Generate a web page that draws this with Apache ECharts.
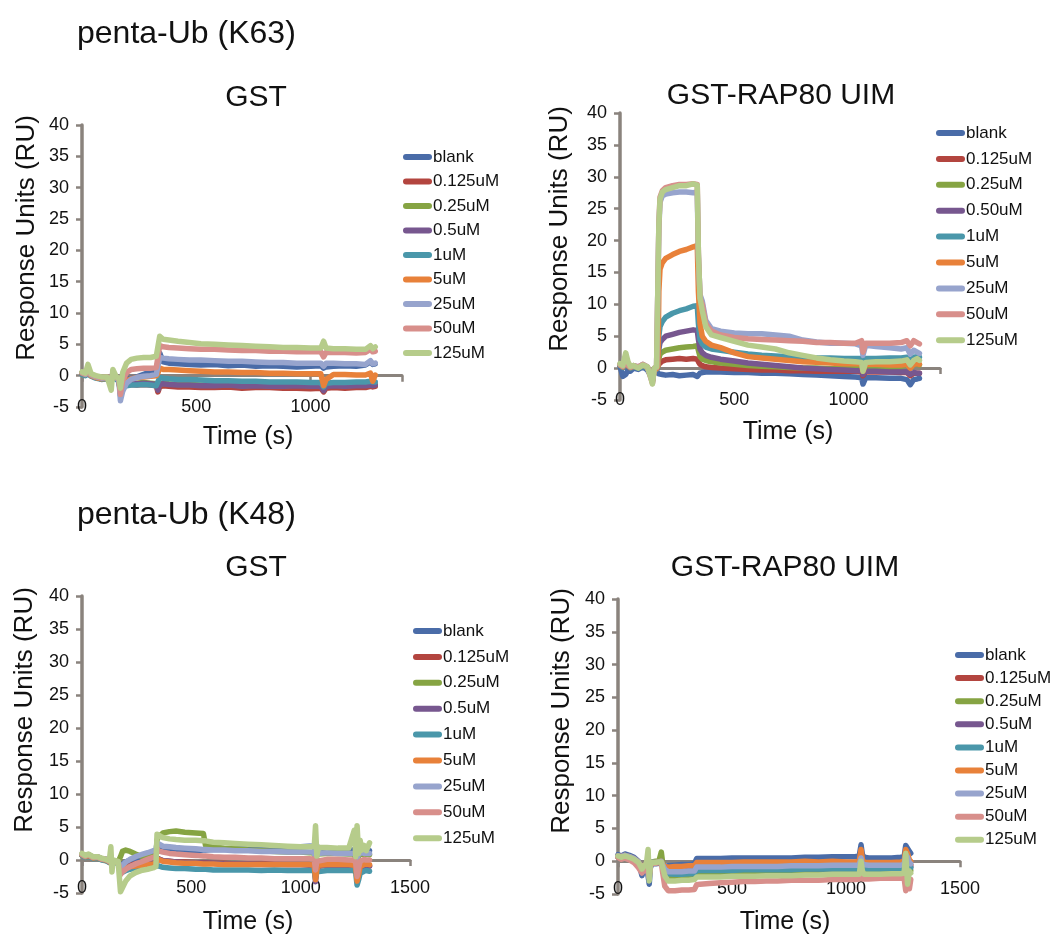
<!DOCTYPE html>
<html>
<head>
<meta charset="utf-8">
<script src="https://cdn.jsdelivr.net/npm/echarts@6/dist/echarts.min.js"></script>
<style>
  html, body { margin: 0; padding: 0; background: #ffffff; }
  #chart { width: 1058px; height: 941px; }
</style>
</head>
<body>
<div id="chart"></div>
<script>
// Analyte concentrations (legend labels)
const concentrations = ['blank', '0.125uM', '0.25uM', '0.5uM', '1uM', '5uM', '25uM', '50uM', '125uM'];
const concentrationsK63Uim = ['blank', '0.125uM', '0.25uM', '0.50uM', '1uM', '5uM', '25uM', '50uM', '125uM'];

// Y axis ticks (RU) and X axis tick step (s)
const yTicks = { min: -5, max: 40, step: 5 };
const xStep = 500;

// ---- penta-Ub (K63) on GST ----
const timeK63Gst = [
  0, 15, 26, 40, 60, 85, 110, 128, 135, 150,
  162, 168, 178, 195, 215, 240, 270, 300, 325, 332,
  340, 355, 380, 420, 470, 520, 580, 640, 700, 760,
  820, 880, 940, 1000, 1045, 1057, 1068, 1100, 1150, 1200,
  1240, 1262, 1272, 1283
];
const respK63Gst = [
  // blank
  [0.5, 0.2, 0.6, 0.1, -0.2, -0.5, -0.3, -0.8, 0.3, -0.3,
   -0.6, -2.5, -1.2, -0.6, -0.4, -0.2, 0.2, 0.6, 0.9, 1.0,
   3.6, 2.2, 2.0, 1.9, 1.8, 1.7, 1.8, 1.6, 1.7, 1.5,
   1.6, 1.5, 1.4, 1.5, 1.6, 1.2, 1.4, 1.5, 1.6, 1.5,
   1.7, 2.2, 1.8, 1.9],
  // 0.125uM
  [0.3, 0.1, 0.4, 0.0, -0.3, -0.5, -0.4, -0.9, 0.2, -0.5,
   -0.8, -2.8, -1.8, -1.5, -1.4, -1.5, -1.4, -1.5, -1.6, -2.6,
   -1.8, -1.6, -1.7, -1.8, -1.8, -1.9, -1.9, -1.8, -2.0, -1.9,
   -1.9, -2.0, -2.0, -2.1, -2.0, -2.6, -2.0, -1.9, -2.0, -1.9,
   -1.9, -1.7, -1.8, -1.7],
  // 0.25uM
  [0.4, 0.2, 0.5, 0.1, -0.2, -0.4, -0.3, -0.8, 0.3, -0.4,
   -0.7, -2.6, -1.6, -1.3, -1.2, -1.2, -1.1, -1.2, -1.3, -2.2,
   -1.3, -1.2, -1.3, -1.4, -1.4, -1.5, -1.5, -1.4, -1.6, -1.5,
   -1.6, -1.6, -1.5, -1.6, -1.6, -2.2, -1.6, -1.5, -1.6, -1.5,
   -1.5, -1.4, -1.5, -1.4],
  // 0.5uM
  [0.3, 0.1, 0.4, 0.0, -0.3, -0.5, -0.4, -0.8, 0.2, -0.4,
   -0.7, -2.7, -1.7, -1.4, -1.3, -1.3, -1.2, -1.3, -1.4, -2.3,
   -1.4, -1.3, -1.4, -1.5, -1.5, -1.6, -1.6, -1.5, -1.7, -1.6,
   -1.7, -1.7, -1.6, -1.7, -1.7, -2.4, -1.7, -1.6, -1.7, -1.6,
   -1.6, -1.5, -1.6, -1.5],
  // 1uM
  [0.2, 0.0, 0.3, -0.1, -0.4, -0.6, -0.5, -1.0, 0.1, -0.6,
   -0.9, -3.2, -2.0, -1.6, -1.5, -1.5, -1.4, -1.5, -1.6, -1.4,
   -0.3, -0.4, -0.5, -0.6, -0.6, -0.7, -0.8, -0.8, -0.9, -0.9,
   -1.0, -1.0, -1.0, -1.1, -1.1, -1.8, -1.2, -1.1, -1.1, -1.0,
   -1.0, -0.9, -1.0, -1.0],
  // 5uM
  [0.4, 0.2, 0.5, 0.0, -0.3, -0.5, -0.4, -0.8, 0.3, -0.4,
   -0.6, -2.8, -1.4, -0.8, -0.5, -0.3, -0.2, -0.1, 0.0, 0.4,
   1.2, 1.0, 1.0, 0.9, 0.8, 0.7, 0.6, 0.6, 0.5, 0.5,
   0.4, 0.4, 0.3, 0.3, 0.3, -1.6, -0.6, 0.2, 0.2, 0.1,
   0.1, 0.4, -0.9, 0.1],
  // 25uM
  [0.5, 0.2, 0.6, 0.1, -0.2, -0.4, -0.3, -0.6, 0.4, -0.3,
   -0.8, -4.0, -2.5, -1.2, -0.6, -0.3, -0.1, 0.0, 0.2, 0.3,
   2.9, 2.8, 2.7, 2.6, 2.5, 2.5, 2.4, 2.3, 2.3, 2.2,
   2.1, 2.1, 2.0, 2.0, 2.0, 1.5, 2.0, 2.0, 1.9, 1.9,
   1.8, 2.4, 1.9, 2.0],
  // 50uM
  [0.5, 0.3, 0.7, 0.2, -0.1, -0.3, -0.2, -0.6, 0.4, -0.2,
   -0.5, -3.0, -0.8, 0.5, 1.0, 1.1, 1.2, 1.2, 1.3, 1.4,
   4.8, 4.6, 4.5, 4.4, 4.3, 4.2, 4.2, 4.1, 4.0, 4.0,
   3.9, 3.9, 3.8, 3.8, 3.8, 3.0, 3.7, 3.7, 3.7, 3.6,
   3.7, 4.2, 3.8, 3.9],
  // 125uM
  [0.6, 0.4, 1.8, 0.3, 0.0, -0.2, -0.2, -2.3, 1.0, -0.2,
   -0.4, -2.0, 0.5, 2.0, 2.6, 2.8, 2.9, 2.9, 3.1, 3.2,
   6.3, 5.8, 5.7, 5.5, 5.3, 5.1, 5.0, 4.9, 4.8, 4.7,
   4.6, 4.5, 4.5, 4.4, 4.4, 5.5, 4.4, 4.3, 4.3, 4.2,
   4.2, 4.8, 4.3, 4.6]
];

// ---- penta-Ub (K63) on GST-RAP80 UIM ----
const timeK63Uim = [
  0, 12, 25, 35, 45, 60, 80, 100, 120, 135,
  142, 150, 160, 166, 170, 175, 185, 200, 230, 260,
  290, 320, 338, 343, 350, 360, 375, 400, 440, 500,
  560, 620, 680, 740, 800, 860, 920, 980, 1030, 1057,
  1063, 1075, 1120, 1180, 1230, 1255, 1270, 1285, 1300, 1310
];
const respK63Uim = [
  // blank
  [0.3, -1.3, -1.0, -0.3, -0.5, 0.0, -0.2, 0.2, -0.3, -1.2,
   -1.5, -0.5, -0.5, -0.8, -0.9, -1.0, -1.0, -1.1, -1.0, -1.2,
   -1.1, -1.0, -1.3, -1.0, -0.8, -0.7, -0.6, -0.6, -0.6, -0.7,
   -0.7, -0.8, -0.8, -0.9, -1.0, -1.1, -1.2, -1.3, -1.4, -1.5,
   -2.5, -1.5, -1.5, -1.6, -1.6, -1.8, -2.6, -1.8, -1.7, -1.6],
  // 0.125uM
  [0.5, 0.2, 0.8, 0.3, 0.0, 0.3, 0.1, 0.4, 0.0, -1.0,
   -1.8, -0.3, -0.2, 0.0, 0.6, 0.9, 1.1, 1.3, 1.4, 1.5,
   1.4, 1.5, 1.4, 1.0, 0.6, 0.4, 0.2, 0.1, 0.0, -0.1,
   -0.2, -0.3, -0.3, -0.4, -0.4, -0.5, -0.5, -0.5, -0.5, -0.6,
   -1.2, -0.6, -0.6, -0.6, -0.7, -0.7, -1.2, -0.8, -0.8, -0.8],
  // 0.25uM
  [0.5, 0.3, 0.9, 0.4, 0.1, 0.3, 0.1, 0.4, 0.1, -1.0,
   -1.9, -0.2, -0.1, 0.1, 1.5, 2.2, 2.5, 2.8, 3.0, 3.2,
   3.3, 3.4, 3.5, 2.8, 1.8, 1.4, 1.2, 1.0, 0.8, 0.6,
   0.4, 0.3, 0.2, 0.1, 0.0, 0.0, -0.1, -0.1, 0.0, 0.0,
   -0.8, 0.0, 0.1, 0.2, 0.3, 0.5, 0.0, 0.6, 0.6, 0.5],
  // 0.50uM
  [0.5, 0.2, 0.8, 0.3, 0.1, 0.3, 0.1, 0.4, 0.0, -1.1,
   -1.9, -0.2, -0.1, 0.2, 3.0, 4.0, 4.5, 5.0, 5.3, 5.6,
   5.8, 6.0, 5.9, 4.5, 3.0, 2.4, 2.0, 1.7, 1.4, 1.1,
   0.8, 0.6, 0.4, 0.2, 0.0, -0.1, -0.2, -0.3, -0.4, -0.4,
   -1.0, -0.5, -0.5, -0.6, -0.6, -0.6, -1.0, -0.7, -0.8, -0.8],
  // 1uM
  [0.4, 0.1, 0.7, 0.3, 0.0, 0.2, 0.0, 0.3, 0.0, -1.2,
   -2.0, -0.3, -0.2, 0.2, 5.0, 6.5, 7.3, 8.0, 8.6, 9.0,
   9.3, 9.7, 9.8, 7.0, 4.5, 3.8, 3.3, 3.0, 2.8, 2.5,
   2.2, 2.0, 1.9, 1.8, 1.7, 1.6, 1.6, 1.5, 1.5, 1.5,
   0.5, 1.5, 1.5, 1.6, 1.6, 1.7, 1.0, 1.7, 1.8, 1.7],
  // 5uM
  [0.5, 0.2, 0.9, 0.4, 0.1, 0.3, 0.1, 0.5, 0.1, -1.2,
   -2.0, -0.2, -0.1, 0.3, 12.0, 15.5, 16.5, 17.2, 17.8, 18.3,
   18.6, 19.0, 19.2, 12.0, 7.0, 5.0, 4.2, 3.6, 3.2, 2.4,
   1.8, 1.6, 1.4, 1.2, 1.0, 0.9, 0.8, 0.7, 0.7, 0.7,
   -0.5, 0.6, 0.6, 0.5, 0.5, 0.6, 0.0, 0.6, 0.7, 0.6],
  // 25uM
  [0.6, 0.3, 1.0, 0.5, 0.2, 0.4, 0.2, 0.6, 0.2, -1.4,
   -2.2, 0.0, 0.1, 0.3, 22.0, 26.0, 27.0, 27.3, 27.5, 27.6,
   27.6, 27.5, 27.6, 17.5, 11.5, 10.5, 7.5, 6.2, 5.8, 5.5,
   5.4, 5.4, 5.2, 5.0, 4.4, 4.1, 3.9, 3.9, 3.8, 3.5,
   2.0, 3.6, 3.4, 3.2, 3.0, 3.2, 2.2, 2.8, 2.5, 2.3],
  // 50uM
  [0.6, 0.3, 1.1, 0.5, 0.2, 0.4, 0.2, 0.6, 0.2, -1.6,
   -2.4, 0.0, 0.1, 0.4, 22.5, 26.8, 27.8, 28.3, 28.6, 28.8,
   28.8, 28.9, 28.8, 18.0, 11.0, 10.0, 7.0, 5.8, 5.2, 4.8,
   4.6, 4.5, 4.4, 4.3, 4.2, 4.0, 4.0, 3.9, 3.9, 4.3,
   2.5, 3.9, 3.9, 3.9, 4.0, 4.3, 3.5, 4.3, 4.0, 3.8],
  // 125uM
  [0.7, 0.4, 2.4, 1.0, 0.3, 0.4, 0.0, 0.5, 0.2, -1.5,
   -2.5, 0.0, 0.2, 0.4, 22.5, 26.5, 27.6, 28.0, 28.3, 28.6,
   28.6, 28.9, 28.7, 18.0, 11.0, 9.0, 6.5, 5.2, 4.8, 4.2,
   3.6, 3.3, 3.0, 2.4, 2.0, 1.6, 1.3, 1.1, 1.0, 0.9,
   -0.5, 0.9, 1.0, 1.0, 1.1, 1.3, 0.5, 1.2, 1.5, 1.2]
];

// ---- penta-Ub (K48) on GST ----
const timeK48Gst = [
  0, 15, 30, 50, 70, 90, 110, 125, 132, 137,
  142, 150, 165, 172, 176, 185, 200, 220, 245, 270,
  300, 325, 338, 343, 350, 370, 400, 430, 470, 520,
  555, 565, 600, 650, 700, 760, 820, 880, 940, 1000,
  1040, 1062, 1068, 1074, 1080, 1120, 1170, 1220, 1245, 1252,
  1258, 1265, 1272, 1280, 1290, 1300, 1315
];
const respK48Gst = [
  // blank
  [0.9, 0.6, 0.8, 0.4, 0.5, 0.2, 0.1, -0.2, -0.3, -0.4,
   -0.3, -0.2, -0.3, -0.4, -0.8, -0.6, -0.3, 0.0, 0.3, 0.5,
   0.7, 0.9, 1.0, 2.0, 1.6, 1.4, 1.3, 1.3, 1.4, 1.4,
   1.5, 1.5, 1.6, 1.6, 1.7, 1.8, 1.8, 1.9, 2.0, 2.0,
   2.1, 2.1, 1.2, 2.0, 1.8, 1.6, 1.6, 1.5, 1.5, 1.4,
   1.0, 1.5, 1.4, 1.5, 1.6, 1.5, 1.4],
  // 0.125uM
  [0.8, 0.5, 0.7, 0.3, 0.4, 0.1, 0.0, -0.3, -0.4, -0.5,
   -0.4, -0.3, -0.4, -0.5, -1.5, -1.2, -1.0, -0.8, -0.6, -0.5,
   -0.4, -0.3, -0.3, 0.2, 0.0, -0.1, -0.2, -0.3, -0.3, -0.4,
   -0.4, -0.4, -0.5, -0.5, -0.6, -0.6, -0.6, -0.6, -0.7, -0.7,
   -0.7, -0.8, -2.5, -1.0, -0.8, -0.8, -0.8, -0.8, -0.9, -1.2,
   -2.0, -1.5, -1.0, -0.9, -0.9, -0.8, -0.9],
  // 0.25uM
  [0.7, 0.5, 0.6, 0.3, 0.3, 0.1, -0.1, -0.3, -0.3, -0.4,
   -0.3, -0.2, -0.3, -0.2, 0.5, 1.3, 1.5, 1.3, 0.9, 0.6,
   0.5, 0.5, 0.6, 3.0, 3.5, 4.1, 4.3, 4.4, 4.2, 4.1,
   4.0, 2.2, 2.0, 1.8, 1.7, 1.5, 1.4, 1.3, 1.2, 1.2,
   1.1, 1.1, -1.0, 0.9, 1.0, 1.0, 1.0, 0.9, 0.9, 0.8,
   -0.5, 0.7, 0.9, 0.9, 0.8, 0.9, 0.8],
  // 0.5uM
  [0.8, 0.5, 0.7, 0.3, 0.4, 0.1, 0.0, -0.3, -0.4, -0.5,
   -0.4, -0.3, -0.4, -0.5, -1.6, -1.3, -1.1, -0.9, -0.7, -0.6,
   -0.5, -0.4, -0.4, 0.3, 0.0, -0.1, -0.2, -0.3, -0.4, -0.4,
   -0.5, -0.5, -0.5, -0.6, -0.6, -0.6, -0.7, -0.7, -0.7, -0.7,
   -0.8, -0.8, -3.3, -1.2, -0.8, -0.8, -0.8, -0.9, -0.9, -1.3,
   -2.2, -1.6, -1.0, -0.9, -0.9, -0.9, -0.9],
  // 1uM
  [0.7, 0.4, 0.6, 0.2, 0.3, 0.0, -0.1, -0.4, -0.5, -0.6,
   -0.5, -0.4, -0.5, -0.6, -2.0, -1.8, -1.6, -1.4, -1.2, -1.1,
   -1.0, -0.9, -0.9, -0.6, -0.9, -1.1, -1.2, -1.3, -1.3, -1.4,
   -1.4, -1.4, -1.5, -1.5, -1.5, -1.5, -1.6, -1.5, -1.6, -1.6,
   -1.6, -1.6, -2.8, -1.8, -1.6, -1.6, -1.6, -1.6, -1.6, -2.0,
   -3.8, -3.0, -2.0, -1.8, -1.7, -1.6, -1.7],
  // 5uM
  [0.8, 0.5, 0.7, 0.3, 0.4, 0.1, 0.0, -0.3, -0.4, -0.5,
   -0.4, -0.3, -0.4, -0.5, -1.6, -1.4, -1.2, -1.0, -0.9, -0.8,
   -0.7, -0.6, -0.5, 0.2, -0.1, -0.2, -0.3, -0.4, -0.5, -0.5,
   -0.6, -0.6, -0.6, -0.7, -0.7, -0.7, -0.7, -0.7, -0.7, -0.7,
   -0.7, -0.8, -3.0, -1.5, -0.8, -0.7, -0.7, -0.7, -0.8, -1.2,
   -3.2, -2.2, -1.0, -0.8, -0.7, -0.6, -0.7],
  // 25uM
  [0.9, 0.6, 0.8, 0.4, 0.5, 0.2, 0.1, -0.2, -0.3, -0.4,
   -0.3, -0.2, -0.3, -0.4, -1.3, -0.8, -0.3, 0.1, 0.5, 0.8,
   1.1, 1.4, 1.5, 2.6, 2.3, 2.1, 2.0, 1.9, 1.8, 1.7,
   1.6, 1.6, 1.5, 1.5, 1.4, 1.4, 1.3, 1.3, 1.2, 1.2,
   1.2, 1.2, 0.0, 1.0, 1.1, 1.1, 1.0, 1.0, 1.0, 0.8,
   0.2, 0.9, 1.0, 1.1, 1.0, 1.0, 1.0],
  // 50uM
  [0.9, 0.6, 0.8, 0.4, 0.5, 0.2, 0.1, -0.2, -0.3, -0.4,
   -0.3, -0.2, -0.3, -0.4, -2.2, -1.8, -1.4, -1.0, -0.6, -0.3,
   0.1, 0.4, 0.5, 1.8, 1.4, 1.2, 1.0, 0.9, 0.8, 0.7,
   0.6, 0.6, 0.5, 0.4, 0.4, 0.3, 0.3, 0.2, 0.2, 0.2,
   0.2, 0.1, -1.5, -0.2, 0.1, 0.1, 0.1, 0.0, 0.0, -0.5,
   -2.5, -1.2, -0.2, 0.0, 0.1, 0.0, 0.0],
  // 125uM
  [1.0, 0.7, 0.9, 0.5, 0.5, 0.3, 0.1, -0.1, 2.0, -1.8,
   0.0, -0.1, -0.2, -0.3, -4.8, -4.2, -3.2, -2.4, -1.9, -1.6,
   -1.4, -1.2, -1.0, 3.9, 3.6, 3.4, 3.2, 3.1, 3.0, 3.0,
   2.9, 2.9, 2.7, 2.6, 2.5, 2.4, 2.3, 2.2, 2.1, 2.0,
   2.0, 2.0, 5.2, 0.6, 1.9, 1.9, 1.8, 1.8, 4.5, 0.5,
   5.2, 1.0, 3.0, 1.5, 2.2, 1.4, 2.6]
];

// ---- penta-Ub (K48) on GST-RAP80 UIM ----
const timeK48Uim = [
  0, 15, 30, 50, 70, 90, 105, 115, 125, 132,
  137, 142, 150, 165, 180, 190, 195, 205, 220, 250,
  280, 310, 335, 345, 360, 400, 450, 500, 550, 600,
  650, 700, 760, 820, 880, 940, 1000, 1040, 1058, 1066,
  1072, 1080, 1100, 1150, 1200, 1240, 1255, 1262, 1270, 1278,
  1284
];
const respK48Uim = [
  // blank
  [1.0, 0.8, 1.1, 0.9, 0.6, 0.0, -2.2, -1.0, -0.5, -0.8,
   -3.5, -1.0, -0.3, -0.4, -0.3, -0.2, -0.5, -0.8, -0.7, -0.6,
   -0.5, -0.5, -0.4, 0.4, 0.4, 0.4, 0.4, 0.5, 0.5, 0.5,
   0.5, 0.5, 0.5, 0.6, 0.6, 0.7, 0.7, 0.7, 0.8, 2.5,
   1.0, 0.6, 0.5, 0.5, 0.5, 0.6, 0.7, 2.4, 2.2, 1.5,
   1.2],
  // 0.125uM
  [0.7, 0.6, 0.8, 0.6, 0.3, -0.2, -1.2, -0.8, -0.5, -0.6,
   -2.0, -0.6, -0.2, -0.3, -0.2, -0.1, -0.6, -1.2, -1.3, -1.3,
   -1.3, -1.2, -1.2, -1.0, -1.0, -1.0, -1.0, -1.0, -0.9, -0.9,
   -0.9, -0.9, -0.9, -0.9, -0.8, -0.8, -0.8, -0.8, -0.8, 0.2,
   -0.6, -0.8, -0.8, -0.8, -0.8, -0.8, -0.7, 1.5, 0.5, -0.5,
   -0.6],
  // 0.25uM
  [0.6, 0.5, 0.7, 0.5, 0.2, -0.3, -1.3, -0.8, -0.5, -0.6,
   -1.8, -0.5, -0.1, 0.0, 0.1, 1.4, 0.0, -1.6, -2.4, -2.5,
   -2.4, -2.4, -2.3, -1.8, -1.8, -1.8, -1.8, -1.7, -1.7, -1.7,
   -1.7, -1.6, -1.6, -1.6, -1.6, -1.5, -1.5, -1.5, -1.5, -0.8,
   -1.4, -1.5, -1.5, -1.5, -1.4, -1.4, -1.4, 0.2, -0.8, -1.4,
   -1.4],
  // 0.5uM
  [0.7, 0.6, 0.8, 0.6, 0.3, -0.2, -1.3, -0.8, -0.5, -0.6,
   -2.0, -0.6, -0.2, -0.3, -0.2, -0.1, -0.6, -1.4, -1.6, -1.7,
   -1.7, -1.6, -1.6, -1.3, -1.3, -1.3, -1.3, -1.2, -1.2, -1.2,
   -1.2, -1.2, -1.1, -1.1, -1.1, -1.1, -1.0, -1.0, -1.0, 0.0,
   -0.9, -1.0, -1.0, -1.0, -1.0, -1.0, -0.9, 0.8, 0.0, -0.8,
   -0.9],
  // 1uM
  [0.7, 0.6, 0.8, 0.6, 0.3, -0.2, -1.4, -0.8, -0.5, -0.6,
   -2.2, -0.6, -0.2, -0.3, -0.2, -0.1, -0.6, -1.5, -1.9, -2.0,
   -2.0, -1.9, -1.9, -1.4, -1.4, -1.4, -1.4, -1.4, -1.3, -1.3,
   -1.3, -1.3, -1.3, -1.2, -1.2, -1.2, -1.2, -1.2, -1.2, -0.2,
   -1.1, -1.2, -1.2, -1.2, -1.1, -1.1, -1.1, 0.6, -0.2, -1.0,
   -1.0],
  // 5uM
  [0.8, 0.7, 0.9, 0.7, 0.4, -0.1, -1.3, -0.7, -0.4, -0.5,
   -2.0, -0.5, -0.2, -0.2, -0.1, 0.0, -0.4, -0.8, -0.9, -0.8,
   -0.8, -0.7, -0.7, -0.2, -0.2, -0.2, -0.2, -0.2, -0.1, -0.1,
   -0.1, -0.1, -0.1, 0.0, -0.1, 0.0, -0.1, -0.1, 0.0, 1.8,
   0.2, -0.2, -0.2, -0.2, -0.2, -0.1, 0.0, 1.8, 1.2, 0.2,
   0.0],
  // 25uM
  [0.8, 0.7, 0.9, 0.7, 0.4, -0.1, -1.5, -0.8, -0.4, -0.6,
   -2.5, -0.6, -0.2, -0.2, -0.1, 0.0, -0.5, -1.2, -1.6, -1.6,
   -1.6, -1.5, -1.5, -0.9, -0.9, -0.9, -0.9, -0.8, -0.8, -0.8,
   -0.8, -0.8, -0.7, -0.7, -0.7, -0.6, -0.6, -0.6, -0.6, 0.5,
   -0.5, -0.6, -0.6, -0.6, -0.6, -0.6, -0.5, 1.0, 0.6, -0.2,
   -0.4],
  // 50uM
  [0.6, 0.3, 0.5, 0.2, -0.2, -1.0, -1.8, -1.2, -0.8, -0.6,
   -2.5, -0.8, -0.3, -0.3, -0.2, -0.2, -1.5, -3.8, -4.5, -4.5,
   -4.4, -4.4, -4.3, -3.6, -3.5, -3.4, -3.3, -3.2, -3.1, -3.1,
   -3.0, -3.0, -2.9, -2.9, -2.9, -2.8, -2.8, -2.8, -2.7, -1.5,
   -2.7, -2.7, -2.7, -2.6, -2.6, -2.6, -2.6, -4.5, -3.0, -4.2,
   -2.8],
  // 125uM
  [0.8, 0.6, 0.8, 0.6, 0.3, -0.2, -1.2, -0.7, -0.3, 1.8,
   -3.0, -0.6, -0.2, -0.2, -0.1, -0.1, -0.8, -2.2, -3.0, -3.0,
   -2.9, -2.9, -2.8, -2.4, -2.4, -2.4, -2.4, -2.3, -2.3, -2.3,
   -2.2, -2.2, -2.2, -2.1, -2.1, -2.0, -2.0, -2.0, -2.0, 0.0,
   -1.5, -2.0, -2.0, -2.0, -1.9, -1.9, -1.8, 1.2, -3.5, -1.5,
   -1.8]
];

// ---------- appearance ----------
const lineColors = ['#4a6ca8', '#b3453f', '#86a443', '#77578f', '#4a97aa', '#e8813a', '#97a4cd', '#d88f8b', '#b6cc8b'];
const axisGrey = '#8a837d';
const textColor = '#111111';
const fontFamily = '"Liberation Sans", Arial, Helvetica, sans-serif';

// Layout of the four sensorgram panels
const panels = [
  { time: timeK63Gst, resp: respK63Gst, names: concentrations, xMax: 1400,
    grid: { left: 82, top: 125, width: 320, height: 282 }, xLabelMargin: -9,
    title: { text: 'GST', x: 256, y: 98 }, yName: { x: 27, y: 238 }, xName: { x: 248, y: 437 },
    legend: { x: 403, y: 157, pitch: 24.5 } },
  { time: timeK63Uim, resp: respK63Uim, names: concentrationsK63Uim, xMax: 1400,
    grid: { left: 620, top: 113, width: 320, height: 287 }, xLabelMargin: -9,
    title: { text: 'GST-RAP80 UIM', x: 781, y: 96 }, yName: { x: 560, y: 229 }, xName: { x: 788, y: 432 },
    legend: { x: 936, y: 133, pitch: 25.9 } },
  { time: timeK48Gst, resp: respK48Gst, names: concentrations, xMax: 1500,
    grid: { left: 82, top: 596, width: 328, height: 297 }, xLabelMargin: -14,
    title: { text: 'GST', x: 256, y: 568 }, yName: { x: 25, y: 710 }, xName: { x: 248, y: 922 },
    legend: { x: 413, y: 631, pitch: 25.9 } },
  { time: timeK48Uim, resp: respK48Uim, names: concentrations, xMax: 1500,
    grid: { left: 618, top: 599, width: 342, height: 295 }, xLabelMargin: -14,
    title: { text: 'GST-RAP80 UIM', x: 785, y: 568 }, yName: { x: 562, y: 711 }, xName: { x: 785, y: 922 },
    legend: { x: 955, y: 655, pitch: 23.1 } }
];

const grids = [], xAxes = [], yAxes = [], series = [], graphics = [];

function label(text, x, y, size, align, rotation) {
  return {
    type: 'text', x: x, y: y, rotation: rotation || 0, silent: true,
    style: { text: text, fontSize: size, fontFamily: fontFamily, fill: textColor,
             align: align || 'center', verticalAlign: 'middle' }
  };
}

// Section headings
graphics.push(label('penta-Ub (K63)', 77, 34, 32, 'left'));
graphics.push(label('penta-Ub (K48)', 77, 515, 32, 'left'));

panels.forEach((p, pi) => {
  grids.push(Object.assign({ containLabel: false }, p.grid));

  // bottom axis carrying the tick labels
  xAxes.push({
    gridIndex: pi, type: 'value', min: 0, max: p.xMax, interval: xStep, position: 'bottom',
    axisLine: { show: false, onZero: false }, axisTick: { show: false }, splitLine: { show: false },
    axisLabel: { margin: p.xLabelMargin, fontSize: 18, fontFamily: fontFamily, color: textColor,
                 showMaxLabel: p.xMax % xStep === 0, formatter: v => String(v) }
  });
  // axis line crossing at zero response
  xAxes.push({
    gridIndex: pi, type: 'value', min: 0, max: p.xMax, interval: xStep, position: 'bottom',
    axisLine: { show: true, onZero: true, lineStyle: { color: axisGrey, width: 3 } },
    axisTick: { show: true, inside: false, length: 6, lineStyle: { color: axisGrey, width: 2.5 } },
    axisLabel: { show: false }, splitLine: { show: false }
  });
  yAxes.push({
    gridIndex: pi, type: 'value', min: yTicks.min, max: yTicks.max, interval: yTicks.step,
    axisLine: { show: true, onZero: false, lineStyle: { color: axisGrey, width: 3.5 } },
    axisTick: { show: true, inside: false, length: 6, lineStyle: { color: axisGrey, width: 2.5 } },
    axisLabel: { margin: 13, fontSize: 18, fontFamily: fontFamily, color: textColor },
    splitLine: { show: false }
  });

  p.resp.forEach((vals, si) => {
    series.push({
      type: 'line', name: p.names[si], xAxisIndex: 2 * pi, yAxisIndex: pi,
      data: p.time.map((t, i) => [t, vals[i]]),
      showSymbol: false, symbol: 'none', smooth: false, animation: false, silent: true,
      lineStyle: { color: lineColors[si], width: 5.5, cap: 'round', join: 'round' },
      z: 3 + si
    });
  });

  // panel title and axis names
  graphics.push(label(p.title.text, p.title.x, p.title.y, 30));
  graphics.push(label('Response Units (RU)', p.yName.x, p.yName.y, 26, 'center', Math.PI / 2));
  graphics.push(label('Time (s)', p.xName.x, p.xName.y, 25));

  // legend: short thick line plus label
  p.names.forEach((name, si) => {
    const cy = p.legend.y + si * p.legend.pitch;
    graphics.push({
      type: 'line', silent: true,
      shape: { x1: p.legend.x + 3, y1: cy, x2: p.legend.x + 26, y2: cy },
      style: { stroke: lineColors[si], lineWidth: 6, lineCap: 'round' }
    });
    graphics.push(label(name, p.legend.x + 30, cy, 17, 'left'));
  });
});

const chart = echarts.init(document.getElementById('chart'), null, { renderer: 'canvas' });
chart.setOption({
  backgroundColor: '#ffffff',
  animation: false,
  grid: grids,
  xAxis: xAxes,
  yAxis: yAxes,
  series: series,
  graphic: graphics
});
</script>
</body>
</html>
